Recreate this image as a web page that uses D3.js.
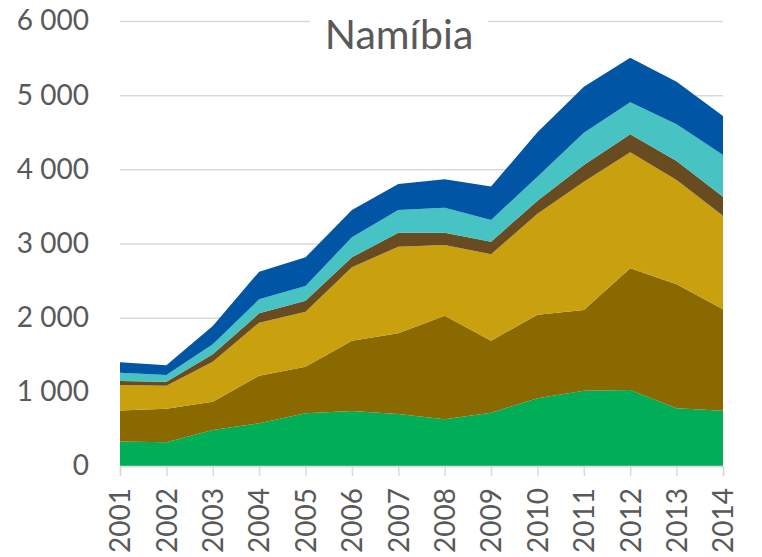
<!DOCTYPE html>
<html>
<head>
<meta charset="utf-8">
<title>Namíbia</title>
<style>
body { margin: 0; background: #fff; }
text { font-family: Lato, "Open Sans", sans-serif; fill: #595959; }
.grid line { stroke: #d9d9d9; stroke-width: 1.5px; }
.grid path { display: none; }
</style>
</head>
<body>
<script src="https://cdn.jsdelivr.net/npm/d3@7/dist/d3.min.js"></script>
<script>

// values, bottom layer first
var years = [2001, 2002, 2003, 2004, 2005, 2006, 2007, 2008, 2009, 2010, 2011, 2012, 2013, 2014];
var verde       = [330, 320, 485, 575, 710, 741, 701, 629, 719, 912, 1015, 1025, 778, 746];
var castanho    = [420, 453, 382, 643, 629, 949, 1088, 1398, 971, 1128, 1088, 1640, 1672, 1367];
var dourado     = [342, 310, 539, 714, 742, 989, 1168, 953, 1164, 1360, 1730, 1564, 1406, 1262];
var castEscuro  = [54, 54, 100, 126, 148, 135, 189, 166, 170, 175, 225, 243, 256, 256];
var turquesa    = [112, 90, 135, 189, 198, 270, 306, 337, 293, 325, 436, 432, 495, 562];
var azul        = [140, 131, 247, 373, 387, 368, 350, 382, 453, 600, 620, 601, 574, 526];
var yTicks = [0, 1000, 2000, 3000, 4000, 5000, 6000];

var keys = ["verde", "castanho", "dourado", "castEscuro", "turquesa", "azul"];
var colors = ["#00ae58", "#8a6900", "#c9a00e", "#684b20", "#48c3c3", "#0055a5"];
var series = {verde: verde, castanho: castanho, dourado: dourado,
              castEscuro: castEscuro, turquesa: turquesa, azul: azul};

var table = years.map(function(y, i) {
  var row = {year: y};
  keys.forEach(function(k) { row[k] = series[k][i]; });
  return row;
});

var width = 762, height = 557;
var plotLeft = 120, plotRight = 723, plotTop = 21, plotBottom = 466;

var svg = d3.select("body").append("svg")
    .attr("width", width)
    .attr("height", height);

var x = d3.scaleLinear().domain([2001, 2014]).range([plotLeft, plotRight]);
var y = d3.scaleLinear().domain([0, 6000]).range([plotBottom, plotTop]);

var fmt = d3.formatLocale({decimal: ",", thousands: " ", grouping: [3], currency: ["", ""]}).format(",");

// gridlines
svg.append("g")
    .attr("class", "grid")
    .attr("transform", "translate(" + plotLeft + ",0)")
    .call(d3.axisLeft(y).tickValues(yTicks).tickSize(-(plotRight - plotLeft)).tickFormat(""));

// stacked areas
var stack = d3.stack().keys(keys);
var layers = stack(table);

var area = d3.area()
    .x(function(d) { return x(d.data.year); })
    .y0(function(d) { return y(d[0]); })
    .y1(function(d) { return y(d[1]); });

svg.append("g")
  .selectAll("path")
  .data(layers)
  .enter().append("path")
    .attr("d", area)
    .attr("fill", function(d, i) { return colors[i]; });

// y axis labels
var yAxis = svg.append("g")
    .attr("transform", "translate(" + plotLeft + ",0)")
    .call(d3.axisLeft(y).tickValues(yTicks).tickSize(0).tickPadding(31).tickFormat(fmt));
yAxis.select(".domain").remove();
yAxis.selectAll("text")
    .style("font-size", "28px")
    .attr("fill", "#595959");

// x axis
var xAxis = svg.append("g")
    .attr("transform", "translate(0," + plotBottom + ")")
    .call(d3.axisBottom(x).tickValues(years).tickSize(10).tickFormat(d3.format("d")));
xAxis.select(".domain").attr("stroke", "#d9d9d9").attr("stroke-width", 1.5);
xAxis.selectAll(".tick line").attr("stroke", "#d9d9d9").attr("stroke-width", 1.5);
xAxis.selectAll("text")
    .style("font-size", "28px")
    .attr("fill", "#595959")
    .attr("transform", "rotate(-90)")
    .attr("text-anchor", "end")
    .attr("x", -22)
    .attr("y", 0)
    .attr("dy", "0.35em");

// clipped label from the neighbouring chart at the left edge
svg.append("text")
    .attr("transform", "translate(-6," + (plotBottom + 22) + ") rotate(-90)")
    .attr("text-anchor", "end")
    .style("font-size", "28px")
    .text("2014");

// title with white box over the top gridline
svg.append("rect")
    .attr("x", 310)
    .attr("y", 8)
    .attr("width", 178)
    .attr("height", 50)
    .attr("fill", "#fff");

svg.append("text")
    .attr("x", 399)
    .attr("y", 49)
    .attr("text-anchor", "middle")
    .style("font-size", "41px")
    .text("Namíbia");

</script>
</body>
</html>
